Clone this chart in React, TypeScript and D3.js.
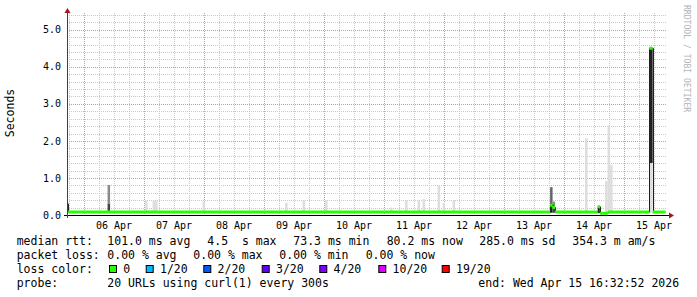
import React from 'react';
import * as d3 from 'd3';

// ---------- data ----------
const rangeStart = '2026-04-05T17:12';
const rangeEnd = '2026-04-15T17:12';
const dayLabels = ['06 Apr', '07 Apr', '08 Apr', '09 Apr', '10 Apr', '11 Apr', '12 Apr', '13 Apr', '14 Apr', '15 Apr'];
const dayNoons = ['2026-04-06T12:00', '2026-04-07T12:00', '2026-04-08T12:00', '2026-04-09T12:00', '2026-04-10T12:00', '2026-04-11T12:00', '2026-04-12T12:00', '2026-04-13T12:00', '2026-04-14T12:00', '2026-04-15T12:00'];
const yTickValues = [0, 1, 2, 3, 4, 5];
const yTickLabels = ['0.0', '1.0', '2.0', '3.0', '4.0', '5.0'];

// median rtt (seconds), step series: value holds from its time to the next one
const medianTimes = ['2026-04-05T16:26', '2026-04-05T17:40', '2026-04-13T18:26', '2026-04-13T19:26', '2026-04-13T20:26', '2026-04-14T13:26', '2026-04-14T14:26', '2026-04-14T17:26', '2026-04-15T10:07', '2026-04-15T11:28', '2026-04-15T16:32'];
const medianValues = [0.30, 0.08, 0.26, 0.20, 0.08, 0.22, 0.05, 0.08, 4.50, 0.08, 0.08];

// smoke (ping spread) segments
const smokeStart = ['2026-04-06T09:26', '2026-04-06T09:26', '2026-04-07T00:26', '2026-04-07T03:26', '2026-04-07T04:26', '2026-04-07T23:26', '2026-04-09T08:26', '2026-04-09T15:26', '2026-04-10T00:26', '2026-04-11T02:26', '2026-04-11T08:26', '2026-04-11T13:26', '2026-04-11T15:26', '2026-04-11T21:26', '2026-04-11T23:26', '2026-04-12T03:26', '2026-04-13T18:26', '2026-04-13T18:26', '2026-04-13T19:26', '2026-04-13T19:26', '2026-04-14T08:26', '2026-04-14T13:26', '2026-04-14T16:26', '2026-04-14T17:26', '2026-04-14T18:26', '2026-04-15T10:07', '2026-04-15T10:07'];
const smokeEnd = ['2026-04-06T10:26', '2026-04-06T10:26', '2026-04-07T01:26', '2026-04-07T04:26', '2026-04-07T05:26', '2026-04-08T00:26', '2026-04-09T09:26', '2026-04-09T16:26', '2026-04-10T01:26', '2026-04-11T03:26', '2026-04-11T09:26', '2026-04-11T14:26', '2026-04-11T16:26', '2026-04-11T22:26', '2026-04-12T00:26', '2026-04-12T04:26', '2026-04-13T19:26', '2026-04-13T19:26', '2026-04-13T20:26', '2026-04-13T20:26', '2026-04-14T09:26', '2026-04-14T14:26', '2026-04-14T17:26', '2026-04-14T18:26', '2026-04-14T19:26', '2026-04-15T11:28', '2026-04-15T11:28'];
const smokeLo = [0.30, 0.08, 0.08, 0.08, 0.08, 0.08, 0.08, 0.08, 0.08, 0.08, 0.08, 0.08, 0.08, 0.08, 0.08, 0.08, 0.26, 0.06, 0.20, 0.06, 0.08, 0.05, 0.08, 0.08, 0.08, 1.40, 0.05];
const smokeHi = [0.81, 0.30, 0.39, 0.39, 0.39, 0.36, 0.33, 0.39, 0.40, 0.20, 0.39, 0.39, 0.43, 0.79, 0.32, 0.40, 0.75, 0.26, 0.36, 0.20, 2.07, 0.22, 0.92, 2.42, 1.35, 4.50, 1.40];
const smokeShade = [3, 5, 0, 0, 0, 0, 0, 0, 0, 0, 0, 0, 0, 0, 0, 0, 4, 6, 3, 5, 0, 5, 0, 0, 0, 6, 0];

// legend
const lossLabels = ['0', '1/20', '2/20', '3/20', '4/20', '10/20', '19/20'];
const lossColors = ['#26ff00', '#00b8ff', '#0059ff', '#5e00ff', '#7e00ff', '#dd00ff', '#ff0000'];
const rttLine = ['median rtt:', '101.0 ms avg', '4.5  s max', '73.3 ms min', '80.2 ms now', '285.0 ms sd', '354.3 m am/s'];
const lossLine = ['packet loss:', '0.00 % avg', '0.00 % max', '0.00 % min', '0.00 % now'];
const probeText = ['probe:', '20 URLs using curl(1) every 300s', 'end: Wed Apr 15 16:32:52 2026'];

// ---------- layout ----------
const W = 697, H = 297;
const PL = 67, PR = 667, PT = 15, PB = 215;
const shadePalette = ['#dddddd', '#bbbbbb', '#999999', '#8a8a8a', '#666666', '#444444', '#222222'];
const rttX = [16.7, 107.3, 207.3, 293.3, 386.7, 479.3, 572.3];
const lossX = [16.7, 107.3, 193.3, 279.3, 365.7];
const boxX = [109, 145.7, 203.3, 261.7, 319.3, 378.3, 441.7];
const probeX = [16.7, 107.3, 478.3];
const MONO = '"DejaVu Sans Mono", monospace';
const pre = { whiteSpace: 'pre' as const };

export default function App() {
  const parse = d3.timeParse('%Y-%m-%dT%H:%M');
  const t0 = parse(rangeStart)!;
  const t1 = parse(rangeEnd)!;
  const x = d3.scaleTime().domain([t0, t1]).range([PL, PR]);
  const y = d3.scaleLinear().domain([0, 200 / 37.04]).range([PB, PT]);

  const minorY = d3.range(1, 28).map((i) => i * 0.2).filter((v) => Math.abs(v - Math.round(v)) > 1e-6);
  const majorY = [1, 2, 3, 4, 5];
  const minorX = d3.timeHour.every(6)!.range(t0, t1).filter((d) => d.getHours() !== 0);
  const majorX = d3.timeDay.range(t0, t1);

  const med = medianTimes.map((t, i) => ({ t: parse(t)!, v: medianValues[i] }));
  const band = d3
    .area<{ t: Date; v: number }>()
    .curve(d3.curveStepAfter)
    .x((d) => x(d.t))
    .y0((d) => y(d.v) + 1.5)
    .y1((d) => y(d.v) - 1.5);
  const thin = d3
    .line<{ t: Date; v: number }>()
    .curve(d3.curveStepAfter)
    .x((d) => Math.round(x(d.t)) + 0.5)
    .y((d) => y(d.v));

  const smoke = smokeStart.map((t, i) => {
    const s = parse(t)!;
    const e = parse(smokeEnd[i])!;
    return { s, e, lo: smokeLo[i], hi: smokeHi[i], c: shadePalette[smokeShade[i]] };
  });

  return (
    <svg width={W} height={H} style={{ position: 'absolute', left: 0, top: 0, background: '#ffffff' }} fontFamily={MONO}>
      <defs>
        <clipPath id="plot">
          <rect x={PL} y={PT - 2} width={PR - PL} height={PB - PT + 2} />
        </clipPath>
      </defs>
      <rect x={0} y={0} width={W} height={H} fill="#ffffff" />
      {/* grid */}
      {minorY.map((v, i) => (
        <line key={'my' + i} x1={PL} x2={PR} y1={Math.round(y(v)) + 0.5} y2={Math.round(y(v)) + 0.5} stroke="#c8c8c8" strokeDasharray="1,1" />
      ))}
      {minorX.map((d, i) => (
        <line key={'mx' + i} x1={Math.round(x(d)) + 0.5} x2={Math.round(x(d)) + 0.5} y1={PT - 2} y2={PB} stroke="#c8c8c8" strokeDasharray="1,1" />
      ))}
      {majorY.map((v, i) => (
        <line key={'My' + i} x1={PL} x2={PR} y1={Math.round(y(v)) + 0.5} y2={Math.round(y(v)) + 0.5} stroke="#e09090" strokeDasharray="1,1" />
      ))}
      {majorX.map((d, i) => (
        <line key={'Mx' + i} x1={Math.round(x(d)) + 0.5} x2={Math.round(x(d)) + 0.5} y1={PT - 2} y2={PB} stroke="#e09090" strokeDasharray="1,1" />
      ))}
      {/* smoke */}
      <g clipPath="url(#plot)">
        {smoke.map((d, i) => (
          <rect key={'s' + i} x={x(d.s)} width={x(d.e) - x(d.s)} y={y(d.hi)} height={y(d.lo) - y(d.hi)} fill={d.c} />
        ))}
        <path d={thin(med) || ''} fill="none" stroke="#202020" strokeWidth={1} />
        <path d={band(med) || ''} fill="#26ff00" />
      </g>
      {/* axes */}
      <line x1={PL - 3} x2={PR + 3} y1={PB + 0.5} y2={PB + 0.5} stroke="#000000" />
      <polygon points={`${PR + 2},${PB - 2.5} ${PR + 7},${PB + 0.5} ${PR + 2},${PB + 3.5}`} fill="#a01818" />
      <line x1={PL + 0.5} x2={PL + 0.5} y1={PB + 3} y2={PT - 3} stroke="#404040" />
      <polygon points={`${PL - 2.5},${PT - 2} ${PL + 0.5},${PT - 7} ${PL + 3.5},${PT - 2}`} fill="#a01818" />
      {/* tick labels */}
      {dayLabels.map((lab, i) => (
        <text key={'xl' + i} x={x(parse(dayNoons[i])!)} y={228.5} fontSize={10} textAnchor="middle" fill="#000">{lab}</text>
      ))}
      {yTickValues.map((v, i) => (
        <text key={'yl' + i} x={61} y={y(v) + 3.6} fontSize={10} textAnchor="end" fill="#000">{yTickLabels[i]}</text>
      ))}
      <text transform={`translate(14,113) rotate(-90)`} fontSize={11.5} textAnchor="middle" fill="#000">Seconds</text>
      <text transform={`translate(684,5) rotate(90)`} fontSize={8.1} fill="#b4b4b4">RRDTOOL / TOBI OETIKER</text>
      {/* legend */}
      <g fontSize={11.5} fill="#000">
        {rttLine.map((s, i) => (
          <text key={'r' + i} x={rttX[i]} y={245} xmlSpace="preserve" style={pre}>{s}</text>
        ))}
        {lossLine.map((s, i) => (
          <text key={'l' + i} x={lossX[i]} y={259} xmlSpace="preserve" style={pre}>{s}</text>
        ))}
        <text x={16.7} y={273}>loss color:</text>
        {lossLabels.map((s, i) => (
          <g key={'b' + i}>
            <rect x={boxX[i] + 0.5} y={265.5} width={7} height={7} fill={lossColors[i]} stroke="#000" />
            <text x={boxX[i] + 14.3} y={273}>{s}</text>
          </g>
        ))}
        {probeText.map((s, i) => (
          <text key={'p' + i} x={probeX[i]} y={287} xmlSpace="preserve" style={pre}>{s}</text>
        ))}
      </g>
    </svg>
  );
}
